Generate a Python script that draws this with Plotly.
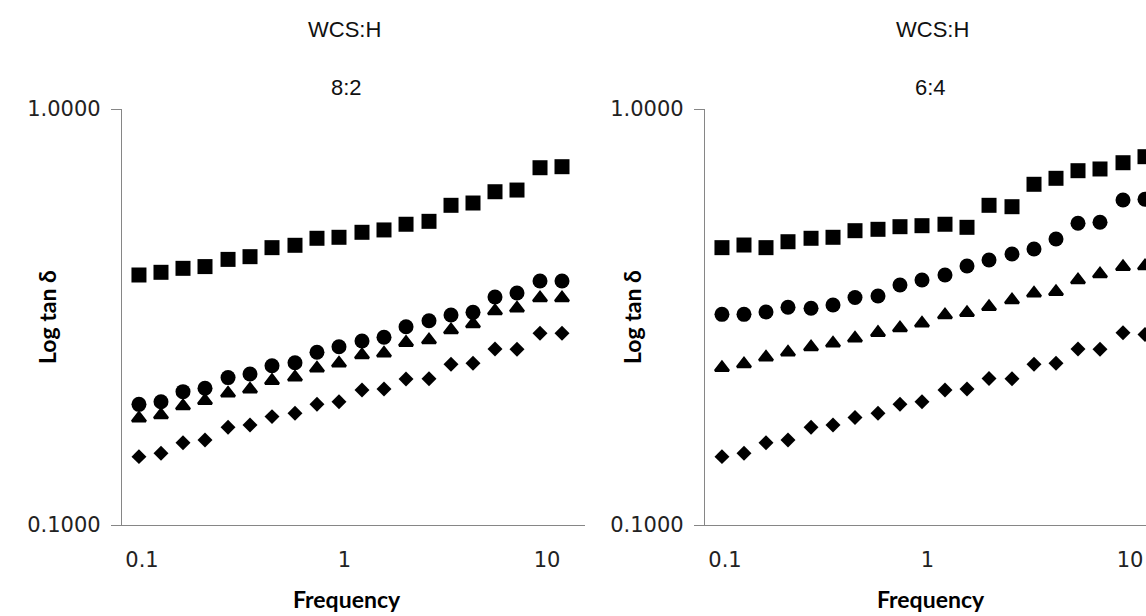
import plotly.graph_objects as go

W, H = 1146, 616

# Frequency (x) values, shared by both panels
freq = [0.0966, 0.1241, 0.1594, 0.2047, 0.2660, 0.3415, 0.4385, 0.5695, 0.7313, 0.9393,
        1.220, 1.567, 2.013, 2.614, 3.357, 4.311, 5.536, 7.110, 9.236, 11.86]

# Panel 1: WCS:H 8:2
p1_square = [0.399, 0.405, 0.414, 0.418, 0.435, 0.4416, 0.4642, 0.4703, 0.4889, 0.4916,
             0.5054, 0.512, 0.5284, 0.537, 0.5868, 0.5943, 0.6326, 0.6385, 0.7225, 0.7266]
p1_circle = [0.195, 0.1978, 0.2092, 0.2132, 0.2261, 0.2307, 0.2415, 0.2455, 0.2601, 0.2683,
             0.277, 0.2827, 0.2997, 0.3098, 0.3197, 0.3245, 0.3532, 0.3613, 0.3859, 0.3859]
p1_triangle = [0.1805, 0.1838, 0.1932, 0.199, 0.2073, 0.212, 0.2223, 0.2265, 0.2381, 0.2448,
               0.2563, 0.2587, 0.2744, 0.2785, 0.2942, 0.3042, 0.3268, 0.3318, 0.3513, 0.3513]
p1_diamond = [0.146, 0.1487, 0.1577, 0.1601, 0.1718, 0.174, 0.1822, 0.1856, 0.195, 0.1978,
              0.2111, 0.2123, 0.2244, 0.2247, 0.2434, 0.2448, 0.2649, 0.2645, 0.2889, 0.2889]

# Panel 2: WCS:H 6:4
p2_square = [0.4642, 0.471, 0.4642, 0.4797, 0.4889, 0.4916, 0.5099, 0.5138, 0.5213, 0.5242,
             0.5284, 0.5195, 0.5868, 0.5823, 0.6592, 0.6814, 0.7107, 0.7175, 0.7428, 0.768]
p2_circle = [0.3209, 0.3209, 0.3251, 0.3337, 0.3318, 0.338, 0.3522, 0.3552, 0.3775, 0.3881,
             0.399, 0.4194, 0.4335, 0.448, 0.4606, 0.4869, 0.5313, 0.5343, 0.6043, 0.6067]
p2_triangle = [0.2388, 0.2438, 0.253, 0.2601, 0.2679, 0.2734, 0.281, 0.29, 0.2975, 0.3054,
               0.3197, 0.3238, 0.3348, 0.3473, 0.3606, 0.3638, 0.3881, 0.4012, 0.4178, 0.4194]
p2_diamond = [0.146, 0.1487, 0.1577, 0.1601, 0.1718, 0.174, 0.1813, 0.1856, 0.195, 0.1978,
              0.2111, 0.2123, 0.2251, 0.2247, 0.2434, 0.2448, 0.2649, 0.2645, 0.2897, 0.2872]

panel_titles = [("WCS:H", "8:2"), ("WCS:H", "6:4")]
x_title = "Frequency"
y_title = "Log tan δ"
y_tickvals = [0.1, 1]
y_ticktext = ["0.1000", "1.0000"]
x_tickvals = [0.1, 1, 10]
x_ticktext = ["0.1", "1", "10"]

AX = "#868686"
TICKFONT = dict(family="DejaVu Sans", size=21, color="#222222")
TITLEFONT = dict(family="Lato", size=23, color="#000000")
HEADFONT = dict(family="Liberation Sans", size=22, color="#111111")

fig = go.Figure()

series_style = [
    ("square", 15, 0),
    ("circle", 15, 0),
    ("triangle-up", 12, 2.5),
    ("diamond", 11.5, 0),
]

for idx, data in enumerate([(p1_square, p1_circle, p1_triangle, p1_diamond),
                            (p2_square, p2_circle, p2_triangle, p2_diamond)]):
    xa = "x" if idx == 0 else "x2"
    ya = "y" if idx == 0 else "y2"
    for vals, (sym, sz, lw) in zip(data, series_style):
        fig.add_trace(go.Scatter(
            x=freq, y=vals, mode="markers", xaxis=xa, yaxis=ya,
            marker=dict(symbol=sym, size=sz, color="black",
                        line=dict(width=lw, color="black")),
            showlegend=False, hoverinfo="skip"))

# plot areas in pixels
left = (122, 585)
right = (705, 1146)
top, bottom = 109, 525
ydom = [1 - bottom / H, 1 - top / H]

common_y = dict(type="log", range=[-1, 0], tickvals=y_tickvals, ticktext=y_ticktext,
                showline=True, linecolor=AX, linewidth=1.3,
                ticks="outside", ticklen=10, tickcolor=AX, tickwidth=1.3,
                showgrid=True, gridcolor=AX, gridwidth=1.3, automargin=False,
                tickfont=TICKFONT, ticklabelstandoff=6, zeroline=False)
common_x = dict(type="log", tickvals=x_tickvals, ticktext=x_ticktext,
                showline=True, linecolor=AX, linewidth=1.3, ticks="", showgrid=False,
                automargin=False,
                tickfont=TICKFONT, ticklabelstandoff=16, zeroline=False)

fig.update_layout(
    template="none",
    width=W, height=H, margin=dict(l=0, r=0, t=0, b=0, pad=0, autoexpand=False),
    paper_bgcolor="white", plot_bgcolor="white", showlegend=False,
    xaxis=dict(domain=[left[0] / W, left[1] / W],
               range=[-1 - 20 / 202.5, -1 + (left[1] - 142) / 202.5], anchor="y", **common_x),
    yaxis=dict(domain=ydom, anchor="x", **common_y),
    xaxis2=dict(domain=[right[0] / W, 1],
                range=[-1 - 20 / 202.5, -1 + (right[1] - 725) / 202.5], anchor="y2", **common_x),
    yaxis2=dict(domain=ydom, anchor="x2", **common_y),
)

ann = []
for (t1, t2), cx, cx2, fx, lx in [(panel_titles[0], 344, 346, 347, 47),
                                   (panel_titles[1], 932, 930, 931, 632)]:
    ann.append(dict(text=t1, x=cx / W, y=1 - 30 / H, xref="paper", yref="paper",
                    showarrow=False, xanchor="center", yanchor="middle", font=HEADFONT))
    ann.append(dict(text=t2, x=cx2 / W, y=1 - 87 / H, xref="paper", yref="paper",
                    showarrow=False, xanchor="center", yanchor="middle", font=HEADFONT))
    ann.append(dict(text="<b>" + x_title + "</b>", x=fx / W, y=1 - 599 / H, xref="paper", yref="paper",
                    showarrow=False, xanchor="center", yanchor="middle", font=TITLEFONT))
    ann.append(dict(text="<b>" + y_title + "</b>", x=lx / W, y=1 - 317 / H, xref="paper", yref="paper",
                    showarrow=False, xanchor="center", yanchor="middle", textangle=-90, font=TITLEFONT))
fig.update_layout(annotations=ann)

fig.write_html("out.html")
